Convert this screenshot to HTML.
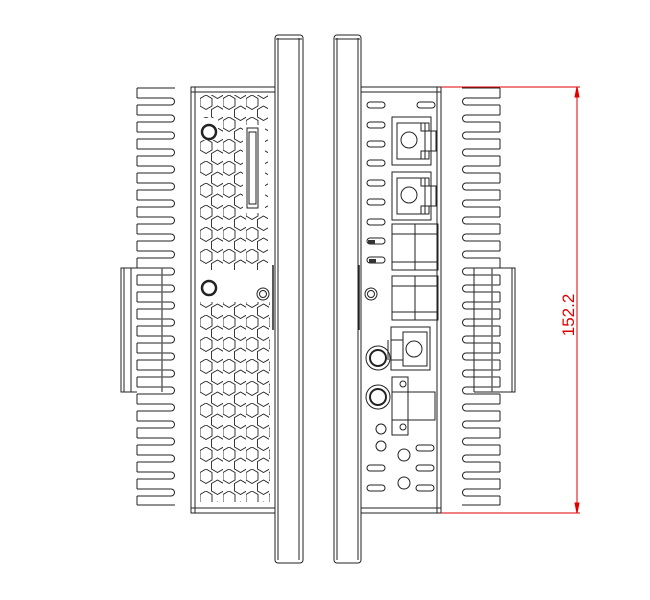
<!DOCTYPE html>
<html><head><meta charset="utf-8"><style>
html,body{margin:0;padding:0;background:#fff;}
svg{display:block;}
</style></head><body>
<svg width="650" height="600" viewBox="0 0 650 600" xmlns="http://www.w3.org/2000/svg" fill="none" stroke="#222" stroke-width="1">
<defs>
  <path id="slotL" d="M137,0 H171 A3.5,3.5 0 0 1 171,7 H137"/>
  <path id="slotR" d="M500,0 H466 A3.5,3.5 0 0 0 466,7 H500"/>
  <pattern id="hex" x="200" y="95" width="23" height="22" patternUnits="userSpaceOnUse">
    <path d="M6,0 L12,3.5 L12,11 L6,14.5 L0,11 L0,3.5 Z" stroke="#222" stroke-width="0.9" fill="none"/>
    <path d="M17.5,11 L23.5,14.5 L23.5,22 L17.5,25.5 L11.5,22 L11.5,14.5 Z" stroke="#222" stroke-width="0.9" fill="none"/>
    <path d="M17.5,-11 L23.5,-7.5 L23.5,0 L17.5,3.5 L11.5,0 L11.5,-7.5 Z" stroke="#222" stroke-width="0.9" fill="none"/>
  </pattern>
  <g id="stad"><rect x="0" y="0" width="18" height="6" rx="3"/></g>
</defs>

<!-- LEFT fins -->
<path d="M137,88 V98 M137,505 V498 M137,88 H175 M137,505 H175"/>
<g>
<use href="#slotL" y="98"/><use href="#slotL" y="115"/><use href="#slotL" y="132"/><use href="#slotL" y="149"/>
<use href="#slotL" y="166"/><use href="#slotL" y="183"/><use href="#slotL" y="200"/><use href="#slotL" y="217"/>
<use href="#slotL" y="234"/><use href="#slotL" y="251"/><use href="#slotL" y="268"/><use href="#slotL" y="285"/>
<use href="#slotL" y="302"/><use href="#slotL" y="319"/><use href="#slotL" y="336"/><use href="#slotL" y="353"/>
<use href="#slotL" y="370"/><use href="#slotL" y="387"/><use href="#slotL" y="404"/><use href="#slotL" y="421"/>
<use href="#slotL" y="438"/><use href="#slotL" y="455"/><use href="#slotL" y="472"/><use href="#slotL" y="489"/>
</g>
<path d="M137,105 V115 M137,122 V132 M137,139 V149 M137,156 V166 M137,173 V183 M137,190 V200 M137,207 V217 M137,224 V234 M137,241 V251 M137,258 V268 M137,275 V285 M137,292 V302 M137,309 V319 M137,326 V336 M137,343 V353 M137,360 V370 M137,377 V387 M137,394 V404 M137,411 V421 M137,428 V438 M137,445 V455 M137,462 V472 M137,479 V489 M137,496 V505"/>
<!-- left bracket -->
<path d="M137,268 H121 V392 H137 M124,268 V392 M131,268 V392" stroke-width="1"/>
<path d="M162,268 V392" stroke="#666" stroke-width="1.5"/>

<!-- LEFT body -->
<rect x="191" y="87" width="84" height="426"/>
<path d="M195,87 V513 M191,92 H275 M191,508 H275"/>
<!-- hex vents -->
<rect x="200" y="95" width="68" height="175" fill="url(#hex)" stroke="none"/>
<rect x="200" y="302" width="70" height="200" fill="url(#hex)" stroke="none"/>
<rect x="243" y="125" width="22" height="88" fill="#fff" stroke="none"/>
<rect x="198" y="118" width="20" height="22" fill="#fff" stroke="none"/>
<rect x="196" y="275" width="75" height="26" fill="#fff" stroke="none"/>
<!-- SD slot -->
<rect x="247" y="128" width="11" height="80"/><rect x="249" y="132" width="7" height="72"/>
<!-- round buttons -->
<circle cx="209" cy="132" r="7" stroke-width="2.5"/>
<circle cx="209" cy="288" r="7" stroke-width="2.5"/>
<circle cx="263" cy="294" r="6"/><circle cx="263" cy="294" r="3.5"/>
<!-- LEFT bezel -->
<rect x="275" y="35" width="28" height="528" rx="3"/>
<path d="M278,38 V560 M299,38 V560 M276,39 H302"/>
<path d="M273,265 V330" stroke-width="1.5"/>

<!-- RIGHT bezel -->
<rect x="334" y="35" width="27" height="528" rx="3"/>
<path d="M337,38 V560 M358,38 V560 M335,39 H360"/>
<path d="M359,265 V330" stroke-width="1.5"/>
<!-- RIGHT body -->
<rect x="361" y="87" width="80" height="426"/>
<path d="M361,92 H441 M361,508 H441 M437,87 V513"/>
<!-- slots column -->
<g>
<use href="#stad" x="367" y="102"/><use href="#stad" x="417" y="102"/>
<use href="#stad" x="367" y="122"/><use href="#stad" x="367" y="141"/>
<use href="#stad" x="367" y="160"/><use href="#stad" x="367" y="180"/>
<use href="#stad" x="367" y="199"/><use href="#stad" x="367" y="219"/>
<use href="#stad" x="367" y="238"/><use href="#stad" x="367" y="257"/>
</g>
<rect x="368" y="240" width="7" height="4" fill="#333" stroke="none"/>
<rect x="369" y="259" width="7" height="4" fill="#333" stroke="none"/>
<!-- connector boxes -->
<g>
<rect x="392" y="117" width="39" height="48"/><rect x="397" y="123" width="28" height="36"/>
<circle cx="409" cy="140" r="8"/>
<rect x="421" y="123" width="8" height="8"/><rect x="421" y="151" width="8" height="8"/>
<path d="M421,131 H436 V151 H421"/>
</g>
<g>
<rect x="392" y="172" width="39" height="48"/><rect x="397" y="178" width="28" height="36"/>
<circle cx="409" cy="195" r="8"/>
<rect x="421" y="178" width="8" height="8"/><rect x="421" y="206" width="8" height="8"/>
<path d="M421,186 H436 V206 H421"/>
</g>
<!-- terminal blocks -->
<rect x="392" y="224" width="46" height="46"/><path d="M415,224 V270 M392,234 H438 M392,262 H438"/>
<rect x="392" y="276" width="46" height="44"/><path d="M415,276 V320 M392,286 H438 M392,312 H438"/>
<circle cx="371" cy="294" r="6"/><circle cx="371" cy="294" r="3.5"/>
<!-- power connector -->
<rect x="391" y="327" width="39" height="43"/>
<rect x="403" y="332" width="24" height="34"/>
<circle cx="414" cy="349" r="8"/>
<path d="M391,340 H403 M391,360 H403 M388,340 V360"/>
<!-- big round holes -->
<circle cx="378" cy="358" r="12"/><circle cx="378" cy="358" r="8" stroke-width="2"/>
<circle cx="378" cy="397" r="12"/><circle cx="378" cy="397" r="8" stroke-width="2"/>
<!-- DC block -->
<rect x="392" y="377" width="16" height="58"/>
<rect x="392" y="392" width="43" height="28"/>
<circle cx="403" cy="384" r="3"/><circle cx="403" cy="427" r="3"/>
<!-- small holes -->
<circle cx="381" cy="429" r="5"/><circle cx="381" cy="446" r="5"/>
<circle cx="404" cy="455" r="6"/><circle cx="404" cy="483" r="6"/>
<use href="#stad" x="416" y="445"/><use href="#stad" x="367" y="465"/>
<use href="#stad" x="416" y="465"/><use href="#stad" x="367" y="485"/>
<use href="#stad" x="416" y="485"/>

<!-- RIGHT fins -->
<path d="M500,88 V98 M500,505 V498 M500,88 H462 M500,505 H462"/>
<g>
<use href="#slotR" y="98"/><use href="#slotR" y="115"/><use href="#slotR" y="132"/><use href="#slotR" y="149"/>
<use href="#slotR" y="166"/><use href="#slotR" y="183"/><use href="#slotR" y="200"/><use href="#slotR" y="217"/>
<use href="#slotR" y="234"/><use href="#slotR" y="251"/><use href="#slotR" y="268"/><use href="#slotR" y="285"/>
<use href="#slotR" y="302"/><use href="#slotR" y="319"/><use href="#slotR" y="336"/><use href="#slotR" y="353"/>
<use href="#slotR" y="370"/><use href="#slotR" y="387"/><use href="#slotR" y="404"/><use href="#slotR" y="421"/>
<use href="#slotR" y="438"/><use href="#slotR" y="455"/><use href="#slotR" y="472"/><use href="#slotR" y="489"/>
</g>
<path d="M500,105 V115 M500,122 V132 M500,139 V149 M500,156 V166 M500,173 V183 M500,190 V200 M500,207 V217 M500,224 V234 M500,241 V251 M500,258 V268 M500,275 V285 M500,292 V302 M500,309 V319 M500,326 V336 M500,343 V353 M500,360 V370 M500,377 V387 M500,394 V404 M500,411 V421 M500,428 V438 M500,445 V455 M500,462 V472 M500,479 V489 M500,496 V505"/>
<!-- right bracket -->
<path d="M500,268 H515 V392 H474 M512,268 V392 M474,268 V392"/>
<path d="M492,268 V392" stroke="#666" stroke-width="1.5"/>

<!-- dimension -->
<g stroke="#e00000">
<path d="M441,87 H580 M441,513 H580 M577,87 V513"/>
<path d="M577,87 L575,97 L579,97 Z M577,513 L575,503 L579,503 Z" fill="#e00000"/>
</g>
<text x="0" y="0" transform="translate(574,315) rotate(-90)" text-anchor="middle" font-family="Liberation Sans, sans-serif" font-size="17" fill="#e00000" stroke="none">152.2</text>
</svg>
</body></html>
